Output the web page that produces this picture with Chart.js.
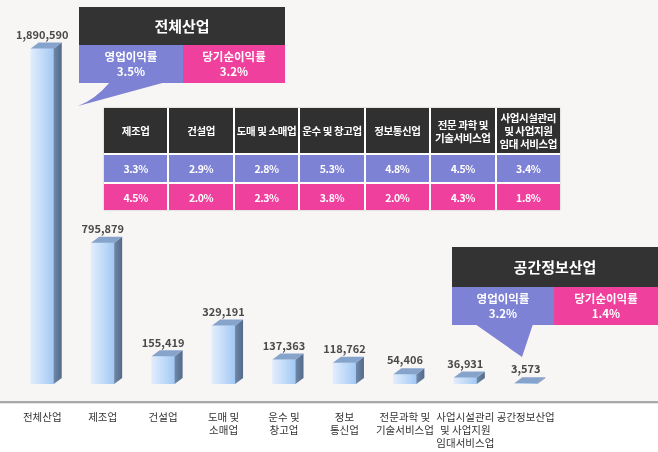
<!doctype html>
<html>

<head>
	<meta charset="utf-8">
	<title>산업별 매출 및 이익률</title>
	<script src="https://cdn.jsdelivr.net/npm/chart.js@4/dist/chart.umd.min.js"></script>
	<style>
		body { margin: 0; background: #fff; font-family: 'Noto Sans CJK KR', sans-serif; }
		#wrap { position: relative; width: 658px; height: 452px; overflow: hidden; }
		#chart-area { position: absolute; left: 0; top: 0; }
		.box { position: absolute; width: 206px; color: #fff; font-weight: bold; text-align: center; }
		.box .head { background: #333; height: 38px; line-height: 38px; font-size: 15px; }
		.box .row { display: flex; height: 38px; }
		.box .row div { font-size: 11.5px; line-height: 15px; padding-top: 4px; box-sizing: border-box; }
		.blue { background: #7d82d4; }
		.pink { background: #ef409d; }
		#tbl { position: absolute; left: 104px; top: 108px; width: 456px; display: grid;
			grid-template-columns: repeat(7, 1fr); grid-template-rows: 45px 27px 26px; gap: 2px;
			background: #fff; box-shadow: 0 0 2px rgba(0,0,0,0.2); }
		#tbl div { color: #fff; font-weight: bold; font-size: 10.5px; line-height: 13px; letter-spacing: -0.4px;
			white-space: nowrap; display: flex; align-items: center; justify-content: center; text-align: center; }
		#tbl .th { background: #303030; }
		svg { position: absolute; left: 0; top: 0; }
	</style>
</head>

<body>
	<div id="wrap">
		<canvas id="chart-area" width="658" height="452"></canvas>
		<svg width="658" height="452">
			<path d="M110,82 Q96,99 78,106 L166,82 Z" fill="#7d82d4"/>
			<path d="M475,324 L533,324 L522,357 Z" fill="#7d82d4"/>
		</svg>
		<div class="box" id="box-total" style="left:79px; top:7px;"></div>
		<div id="tbl"></div>
		<div class="box" id="box-space" style="left:452px; top:247px; height:78px;"></div>
	</div>
	<script>
		var categories = [
			['전체산업'], ['제조업'], ['건설업'], ['도매 및', '소매업'], ['운수 및', '창고업'],
			['정보', '통신업'], ['전문과학 및', '기술서비스업'], ['사업시설관리', '및 사업지원', '임대서비스업'], ['공간정보산업']
		];
		var sales = [1890590, 795879, 155419, 329191, 137363, 118762, 54406, 36931, 3573];

		var tableIndustries = ['제조업', '건설업', '도매 및 소매업', '운수 및 창고업', '정보통신업',
			'전문 과학 및<br>기술서비스업', '사업시설관리<br>및 사업지원<br>임대 서비스업'];
		var opMargin = [3.3, 2.9, 2.8, 5.3, 4.8, 4.5, 3.4];
		var netMargin = [4.5, 2.0, 2.3, 3.8, 2.0, 4.3, 1.8];

		var totalTitle = '전체산업';
		var totalMargins = [3.5, 3.2];
		var spaceTitle = '공간정보산업';
		var spaceMargins = [3.2, 1.4];
		var marginNames = ['영업이익률', '당기순이익률'];

		function fillBox(id, title, margins, leftW) {
			var html = '<div class="head">' + title + '</div><div class="row">';
			html += '<div class="blue" style="width:' + leftW + 'px">' + marginNames[0] + '<br>' + margins[0].toFixed(1) + '%</div>';
			html += '<div class="pink" style="width:' + (206 - leftW) + 'px">' + marginNames[1] + '<br>' + margins[1].toFixed(1) + '%</div>';
			document.getElementById(id).innerHTML = html + '</div>';
		}
		fillBox('box-total', totalTitle, totalMargins, 104);
		fillBox('box-space', spaceTitle, spaceMargins, 102);
		document.querySelector('#box-space .head').style.height = '40px';
		document.querySelector('#box-space .head').style.lineHeight = '40px';

		var tbl = '';
		tableIndustries.forEach(function(t) { tbl += '<div class="th">' + t + '</div>'; });
		opMargin.forEach(function(v) { tbl += '<div class="blue">' + v.toFixed(1) + '%</div>'; });
		netMargin.forEach(function(v) { tbl += '<div class="pink">' + v.toFixed(1) + '%</div>'; });
		document.getElementById('tbl').innerHTML = tbl;

		var DX = 8, DY = 6;

		// background, floor line, 3d sides and value labels
		var bar3d = {
			id: 'bar3d',
			beforeDraw: function(chart) {
				var c = chart.ctx;
				c.save();
				c.fillStyle = '#f7f6f4';
				c.fillRect(0, 0, chart.width, 401);
				c.fillStyle = '#a9a9a9';
				c.fillRect(0, 401, chart.width, 2);
				c.fillStyle = '#e4e4e4';
				c.fillRect(0, 403, chart.width, 1);
				c.restore();
			},
			afterDatasetsDraw: function(chart) {
				var c = chart.ctx;
				var meta = chart.getDatasetMeta(0);
				c.save();
				meta.data.forEach(function(bar, i) {
					var half = bar.width / 2;
					var l = bar.x - half, r = bar.x + half, t = bar.y, b = bar.base;
					var side = c.createLinearGradient(r, 0, r + DX, 0);
					side.addColorStop(0, '#6f87a8');
					side.addColorStop(1, '#536a8a');
					c.fillStyle = side;
					c.beginPath();
					c.moveTo(r, t); c.lineTo(r + DX, t - DY); c.lineTo(r + DX, b - DY); c.lineTo(r, b);
					c.closePath(); c.fill();
					c.fillStyle = '#86a3cc';
					c.beginPath();
					c.moveTo(l, t); c.lineTo(l + DX, t - DY); c.lineTo(r + DX, t - DY); c.lineTo(r, t);
					c.closePath(); c.fill();

					c.fillStyle = '#4a4a4a';
					c.font = 'bold 11px "Noto Sans CJK KR"';
					c.textAlign = 'center';
					c.textBaseline = 'middle';
					c.fillText(sales[i].toLocaleString('en-US'), bar.x, t - 14);
				});
				c.restore();
			}
		};

		var config = {
			type: 'bar',
			data: {
				labels: categories,
				datasets: [{
					data: sales,
					barThickness: 23,
					borderWidth: 0,
					backgroundColor: function(ctx) {
						var xs = ctx.chart.scales.x;
						if (!xs || !ctx.chart.chartArea) return '#b9d6f8';
						var cx = xs.getPixelForValue(ctx.dataIndex);
						var g = ctx.chart.ctx.createLinearGradient(cx - 11.5, 0, cx + 11.5, 0);
						g.addColorStop(0, '#e2edfc');
						g.addColorStop(0.6, '#bcd8f8');
						g.addColorStop(1, '#a2c8f3');
						return g;
					}
				}]
			},
			options: {
				responsive: false,
				animation: false,
				devicePixelRatio: 1,
				layout: { padding: { left: 12, right: 102, top: 29, bottom: 2 } },
				plugins: { legend: { display: false }, tooltip: { enabled: false } },
				scales: {
					x: {
						grid: { display: true, drawOnChartArea: false, drawTicks: true, tickLength: 27, tickColor: 'transparent' },
						border: { display: false },
						ticks: {
							padding: 0,
							maxRotation: 0,
							autoSkip: false,
							color: '#333',
							font: { family: 'Noto Sans CJK KR', size: 10.5, lineHeight: 1.24 }
						}
					},
					y: { display: false, min: 0, max: 2000000 }
				}
			},
			plugins: [bar3d]
		};

		window.onload = function() {
			var ctx = document.getElementById('chart-area').getContext('2d');
			window.myBar = new Chart(ctx, config);
		};
	</script>
</body>

</html>
